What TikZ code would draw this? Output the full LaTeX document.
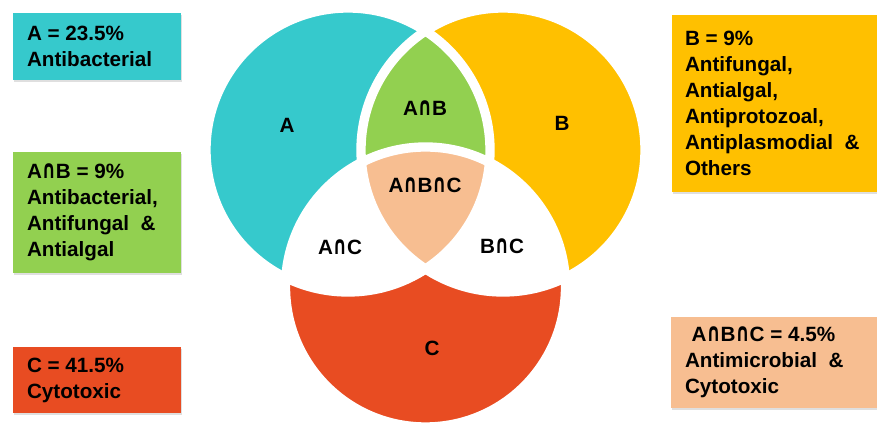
\documentclass[tikz,border=0pt]{standalone}
\usepackage{fontspec}
\usepackage{graphicx}
\setmainfont{Liberation Sans}
\newfontfamily\symfam{DejaVu Sans}
\usetikzlibrary{fit,shadows}

\definecolor{setA}{HTML}{36C9CC}
\definecolor{setB}{HTML}{FFC000}
\definecolor{setC}{HTML}{E84C22}
\definecolor{setAB}{HTML}{92D050}
\definecolor{setABC}{HTML}{F7BE91}

% cap-height intersection sign
\newcommand{\isect}{\resizebox{0.68em}{0.716em}{\symfam\bfseries ∩}}

\begin{document}
\begin{tikzpicture}[
    x=0.75pt, y=0.75pt,
    infobox/.style={inner sep=0pt, drop shadow={shadow xshift=1pt, shadow yshift=-1.2pt, opacity=0.25}},
    boxtext/.style={anchor=west, align=left, inner sep=0pt, font=\fontsize{15.5}{19.5}\selectfont\bfseries},
    setlabel/.style={inner sep=0pt, font=\fontsize{15.5}{18}\selectfont\bfseries},
    gap/.style={white, line width=7pt}
]
\useasboundingbox (0,0) rectangle (877,423);

\def\circA{(348,273) circle (142)}
\def\circB{(503,273) circle (142)}
\def\circC{(425.5,136) circle (140)}

% --- Venn diagram ---
\fill[setA] \circA;
\fill[setB] \circB;
\fill[setC] \circC;

% A and B, A and C
\begin{scope}
    \clip \circA;
    \fill[setAB] \circB;
    \fill[white] \circC;
\end{scope}

% B and C
\begin{scope}
    \clip \circB;
    \fill[white] \circC;
\end{scope}

% A and B and C
\begin{scope}
    \clip \circA;
    \clip \circB;
    \fill[setABC] \circC;
\end{scope}

% White gaps
\draw[gap] \circA;
\draw[gap] \circB;
\draw[gap] \circC;

% Labels
\node[setlabel] (labA) at (287,298) {A};
\node[setlabel] (labB) at (562,300) {B};
\node[setlabel] (labC) at (432,75) {C};
\node[setlabel] (labAB) at (425,315) {A\isect B};
\node[setlabel] (labABC) at (425,238) {A\isect B\isect C};
\node[setlabel] (labAC) at (340,176) {A\isect C};
\node[setlabel] (labBC) at (502,177) {B\isect C};

% --- Left boxes ---
\node[infobox, fill=setA, fit={(13,343) (181,410)}] (boxA) {};
\node[boxtext] (txtA) at ([xshift=10.5pt]boxA.west) {A = 23.5\%\\Antibacterial};

\node[infobox, fill=setAB, fit={(13,150) (181,271)}] (boxAB) {};
\node[boxtext] (txtAB) at ([xshift=10.5pt]boxAB.west) {A\isect B = 9\%\\Antibacterial,\\Antifungal \ \&\\Antialgal};

\node[infobox, fill=setC, fit={(13,10) (181,76)}] (boxC) {};
\node[boxtext] (txtC) at ([xshift=10.5pt]boxC.west) {C = 41.5\%\\Cytotoxic};

% --- Right boxes ---
\node[infobox, fill=setB, fit={(672,231) (877,408)}] (boxB) {};
\node[boxtext] (txtB) at ([xshift=9.75pt]boxB.west) {B = 9\%\\Antifungal,\\Antialgal,\\Antiprotozoal,\\Antiplasmodial \ \&\\Others};

\node[infobox, fill=setABC, fit={(671,15) (877,106)}] (boxABC) {};
\node[boxtext] (txtABC) at ([xshift=10.5pt]boxABC.west) {\hspace*{5pt}A\isect B\isect C = 4.5\%\\Antimicrobial \ \&\\Cytotoxic};

\end{tikzpicture}
\end{document}
